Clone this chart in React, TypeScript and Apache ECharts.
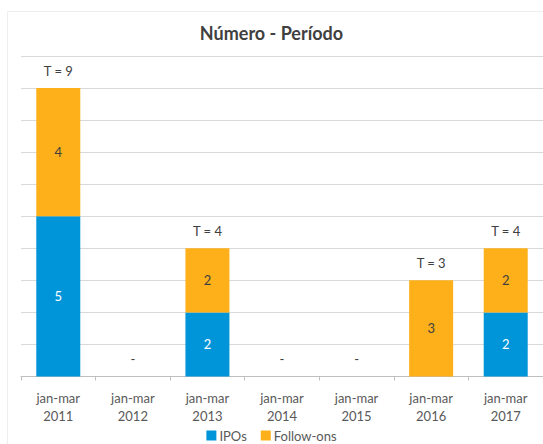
import React, { useEffect, useRef } from "react";
import * as echarts from "echarts";

const categories = [
  "jan-mar\n2011",
  "jan-mar\n2012",
  "jan-mar\n2013",
  "jan-mar\n2014",
  "jan-mar\n2015",
  "jan-mar\n2016",
  "jan-mar\n2017",
];
const ipos = [5, 0, 2, 0, 0, 0, 2];
const followOns = [4, 0, 2, 0, 0, 3, 2];
const yTicks = { min: 0, max: 10, interval: 1 };

const FONT = "Lato, 'Open Sans', sans-serif";

export default function App() {
  const ref = useRef<HTMLDivElement>(null);
  useEffect(() => {
    if (!ref.current) return;
    const chart = echarts.init(ref.current, null, { renderer: "svg" });
    const totals = ipos.map((v, i) => v + followOns[i]);
    chart.setOption({
      animation: false,
      textStyle: { fontFamily: FONT },
      graphic: [
        {
          type: "rect",
          shape: { x: 7.5, y: 11.5, width: 600, height: 500 },
          style: { fill: "none", stroke: "#eeeeee", lineWidth: 1 },
          silent: true,
          z: -10,
        },
      ],
      title: {
        text: "Número - Período",
        left: "center",
        top: 19,
        textStyle: { fontFamily: FONT, fontSize: 18, fontWeight: "bold", color: "#404040" },
      },
      legend: {
        data: ["IPOs", "Follow-ons"],
        left: "center",
        top: 424,
        icon: "rect",
        itemWidth: 10,
        itemHeight: 10,
        itemGap: 14,
        textStyle: { fontFamily: FONT, fontSize: 13, color: "#595959", padding: [0, 0, 0, -2] },
      },
      grid: { left: 21, right: 0, top: 56, bottom: 67.5, containLabel: false },
      xAxis: {
        type: "category",
        data: categories,
        axisLine: { lineStyle: { color: "#bfbfbf" } },
        axisTick: { show: true, length: 4, lineStyle: { color: "#bfbfbf" } },
        axisLabel: { fontFamily: FONT, fontSize: 13, color: "#595959", lineHeight: 18, margin: 12 },
      },
      yAxis: {
        type: "value",
        min: yTicks.min,
        max: yTicks.max,
        interval: yTicks.interval,
        axisLabel: { show: false },
        axisLine: { show: false },
        axisTick: { show: false },
        splitLine: { lineStyle: { color: "#d9d9d9", width: 1 } },
      },
      series: [
        {
          name: "IPOs",
          type: "bar",
          stack: "a",
          barWidth: "59%",
          data: ipos,
          itemStyle: { color: "#0095D9" },
          label: {
            show: true,
            position: "inside",
            color: "#ffffff",
            fontSize: 13,
            fontFamily: FONT,
            formatter: (p: any) => (p.value > 0 ? String(p.value) : ""),
          },
        },
        {
          name: "Follow-ons",
          type: "bar",
          stack: "a",
          data: followOns,
          itemStyle: { color: "#FDB01A" },
          label: {
            show: true,
            position: "inside",
            color: "#404040",
            fontSize: 13,
            fontFamily: FONT,
            formatter: (p: any) => (p.value > 0 ? String(p.value) : ""),
          },
        },
        {
          name: "Total",
          type: "bar",
          stack: "a",
          data: totals.map(() => 0),
          itemStyle: { color: "transparent" },
          label: {
            show: true,
            position: "top",
            distance: 11,
            color: "#404040",
            fontSize: 13,
            fontFamily: FONT,
            formatter: (p: any) => {
              const t = totals[p.dataIndex];
              return t > 0 ? `T = ${t}` : "-";
            },
          },
        },
      ],
    });
    return () => chart.dispose();
  }, []);
  return (
    <div
      ref={ref}
      style={{ position: "fixed", left: 0, top: 0, width: 543, height: 444, background: "#ffffff" }}
    />
  );
}
